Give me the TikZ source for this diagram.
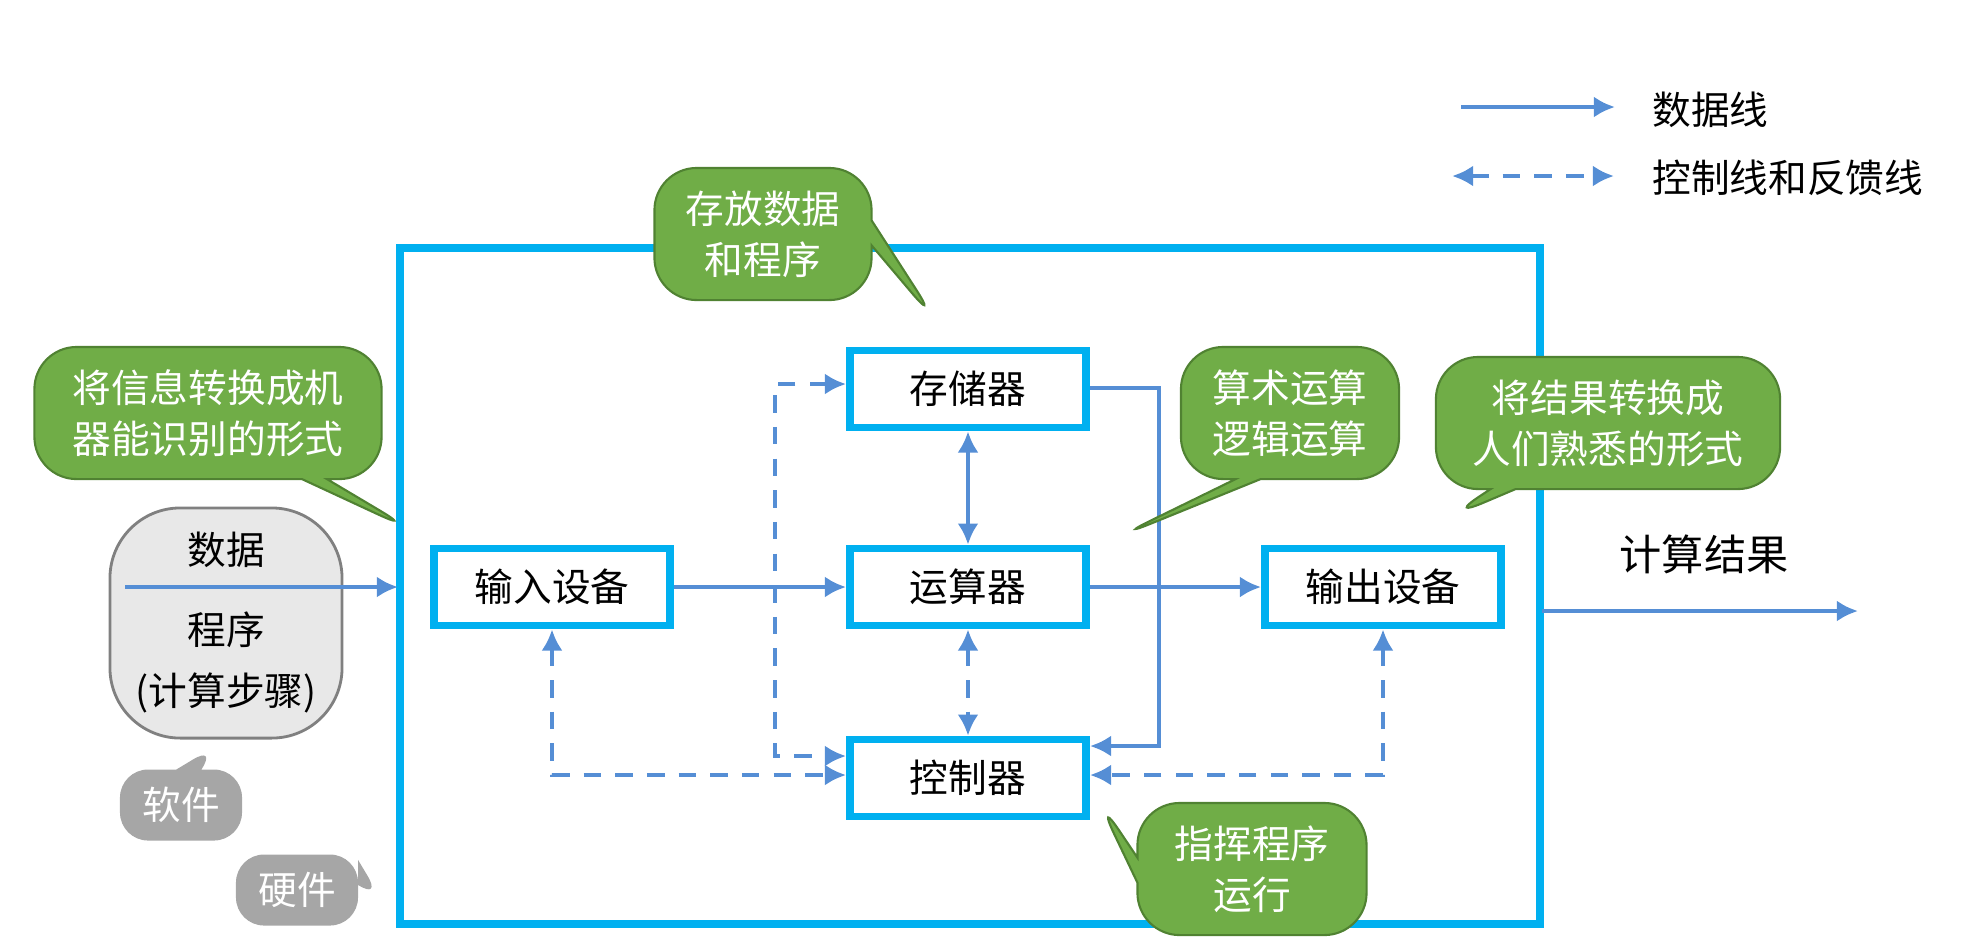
\documentclass[tikz,border=0pt]{standalone}
\usepackage{fontspec}
\setmainfont{Noto Sans CJK SC}
\usetikzlibrary{shapes.callouts,arrows.meta}
\definecolor{cy}{RGB}{0,176,240}
\definecolor{ln}{RGB}{85,142,213}
\definecolor{gr}{RGB}{112,173,71}
\definecolor{grd}{RGB}{80,130,50}
\begin{document}
\begin{tikzpicture}[x=0.01cm,y=-0.01cm,
 unit/.style={draw=cy,line width=2.2pt,minimum width=2.36cm,minimum height=0.77cm,font=\fontsize{11}{13}\selectfont},
 data/.style={ln,line width=1.3pt,-{Latex[length=6pt,width=6pt]}},
 ddata/.style={ln,line width=1.3pt,{Latex[length=6pt,width=6pt]}-{Latex[length=6pt,width=6pt]}},
 ctrl/.style={ln,line width=1.3pt,dash pattern=on 5pt off 4pt,{Latex[length=6pt,width=6pt]}-{Latex[length=6pt,width=6pt]}},
 gcall/.style={rectangle callout,rounded corners=12pt,fill=gr,draw=grd,line width=0.6pt,text=white,align=center,font=\fontsize{11}{14.5}\selectfont},
 ycall/.style={rectangle callout,rounded corners=8pt,fill=gray!70,text=white,font=\fontsize{11}{13}\selectfont}]
\useasboundingbox (0,0) rectangle (1976,950);
\node[draw=gray,fill=gray!18,rounded corners=20pt,line width=0.8pt,minimum width=2.32cm,minimum height=2.30cm] (sw) at (226,623) {};
\node[font=\fontsize{11}{13}\selectfont] (t1) at (226,550) {数据};
\node[font=\fontsize{11}{13}\selectfont] (t2) at (226,630) {程序};
\node[font=\fontsize{11}{13}\selectfont] (t3) at (226,693) {(计算步骤)};
\draw[cy,line width=2.5pt] (400,248) rectangle (1540,924);
\node[unit] (mem) at (968,389) {存储器};
\node[unit] (alu) at (968,587) {运算器};
\node[unit] (ctl) at (968,778) {控制器};
\node[unit] (in) at (552,587) {输入设备};
\node[unit] (out) at (1383,587) {输出设备};
\coordinate (s0) at (125,587); \coordinate (s1) at (398,587);
\draw[data] (s0) -- (s1);
\draw[data] (in) -- (alu);
\draw[data] (alu) -- (out);
\draw[ddata] (mem) -- (alu);
\draw[ctrl] (alu) -- (ctl);
\draw[data] (mem.east |- 0,388) -- (1159,388) -- (1159,746) -- (ctl.east |- 0,746);
\draw[ctrl] (mem.west |- 0,384) -- (775,384) -- (775,756) -- (ctl.west |- 0,756);
\draw[ctrl] (in.south) -- (552,775) -- (ctl.west |- 0,775);
\draw[ctrl] (out.south) -- (1383,775) -- (ctl.east |- 0,775);
\coordinate (o0) at (1542,611); \coordinate (o1) at (1858,611);
\draw[data] (o0) -- (o1);
\node[font=\fontsize{12}{14}\selectfont] (res) at (1704,554) {计算结果};
\coordinate (l0) at (1461,107); \coordinate (l1) at (1615,107);
\draw[data] (l0) -- (l1);
\node[anchor=west,font=\fontsize{11}{13}\selectfont] (lt1) at (1640,110) {数据线};
\coordinate (l2) at (1452,176); \coordinate (l3) at (1614,176);
\draw[ctrl] (l2) -- (l3);
\node[anchor=west,font=\fontsize{11}{13}\selectfont] (lt2) at (1640,178) {控制线和反馈线};
\node[gcall,minimum width=2.17cm,minimum height=1.32cm,callout absolute pointer={(939,325)}] (c1) at (763,234) {存放数据\\和程序};
\node[gcall,minimum width=3.47cm,minimum height=1.32cm,callout absolute pointer={(416,532)}] (c2) at (208,413) {将信息转换成机\\器能识别的形式};
\node[gcall,minimum width=2.18cm,minimum height=1.32cm,callout absolute pointer={(1113,539)}] (c3) at (1290,413) {算术运算\\逻辑运算};
\node[gcall,minimum width=3.44cm,minimum height=1.32cm,callout absolute pointer={(1445,519)}] (c4) at (1608,423) {将结果转换成\\人们熟悉的形式};
\node[gcall,minimum width=2.29cm,minimum height=1.32cm,callout absolute pointer={(1096,796)}] (c5) at (1252,869) {指挥程序\\运行};
\node[ycall,minimum width=1.22cm,minimum height=0.71cm,callout absolute pointer={(217,745)}] (sf) at (181,805) {软件};
\node[ycall,minimum width=1.22cm,minimum height=0.71cm,callout absolute pointer={(382,900)}] (hw) at (297,890) {硬件};
\end{tikzpicture}
\end{document}
